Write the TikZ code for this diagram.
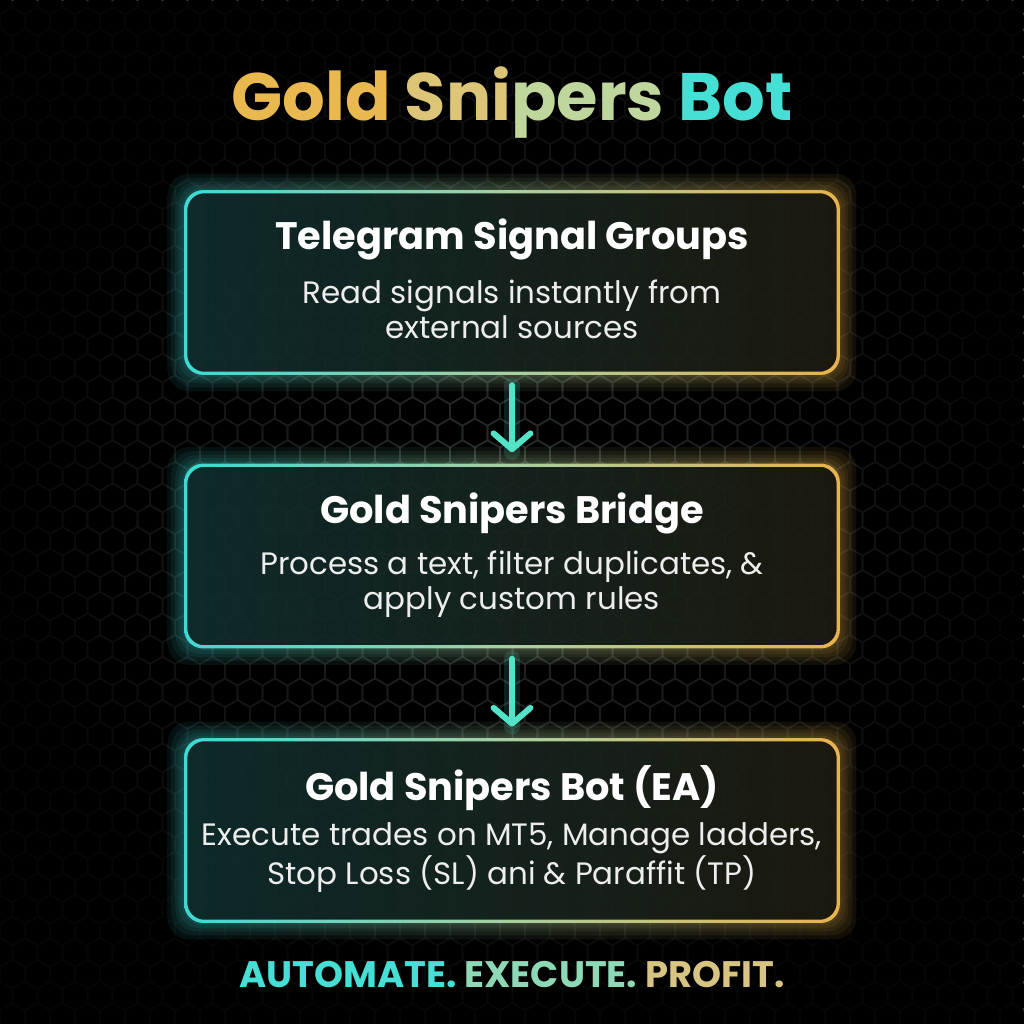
\documentclass[tikz,border=0pt]{standalone}
\usepackage{fontspec}
\setmainfont{Poppins}
\usetikzlibrary{arrows.meta,calc,positioning,fadings}
\definecolor{hexgray}{HTML}{33393A}
\definecolor{frcyan}{HTML}{3ED8D4}
\definecolor{frmid}{HTML}{A8CFA0}
\definecolor{frgold}{HTML}{E8B24C}
\definecolor{fillteal}{HTML}{0F2D2D}
\definecolor{fillolive}{HTML}{1D1B10}
\definecolor{arrowteal}{HTML}{52E3C8}
\definecolor{ttlgold}{HTML}{E9B84F}
\definecolor{ttlsand}{HTML}{DCC577}
\definecolor{ttlsage}{HTML}{BFD69C}
\definecolor{ttlcyan}{HTML}{45DFD5}
\definecolor{tagmint}{HTML}{8ED9B5}
\definecolor{tagsand}{HTML}{D8C482}
\tikzfading[name=vignette,inner color=transparent!85,outer color=transparent!10]
\tikzset{
  hex line/.style={draw=hexgray,line width=0.9pt},
  flow box/.style={minimum width=13.04cm,minimum height=3.62cm,inner sep=0pt},
  box head/.style={font=\bfseries\fontsize{21.8}{26}\selectfont,text=white},
  box body/.style={font=\fontsize{17.6}{19.8}\selectfont,text=white!93!black,
    align=center},
  flow arrow/.style={-{Straight Barb[length=9pt,width=21pt,round]},
    line width=3.4pt,line cap=round,arrowteal,shorten <=6.8pt,shorten >=7.4pt},
  arrow glow/.style={line width=9pt,arrowteal,opacity=0.15,line cap=round,
    shorten <=6.8pt,shorten >=7.4pt},
}
% glowing frame with a cyan to gold rim round a named box
\newcommand{\GlowFrame}[1]{%
  \foreach \g in {18,14,10,7,4}{
    \shade[left color=frcyan,right color=frgold,middle color=frmid,
      opacity=0.08,even odd rule]
      ($(#1.north west)+(-\g,-\g)$) [rounded corners=0.42cm] rectangle
      ($(#1.south east)+(\g,\g)$)
      ($(#1.north west)+(1,1)$) [rounded corners=0.34cm] rectangle
      ($(#1.south east)+(-1,-1)$);
  }
  \shade[left color=fillteal,right color=fillolive,fill opacity=0.92,
    rounded corners=0.36cm] (#1.north west) rectangle (#1.south east);
  \shade[left color=frcyan,right color=frgold,middle color=frmid,even odd rule]
    ($(#1.north west)+(-1.6,-1.6)$) [rounded corners=0.38cm] rectangle
    ($(#1.south east)+(1.6,1.6)$)
    ($(#1.north west)+(1.6,1.6)$) [rounded corners=0.34cm] rectangle
    ($(#1.south east)+(-1.6,-1.6)$);
}

\begin{document}
\begin{tikzpicture}[x=0.02cm,y=-0.02cm]
  \useasboundingbox (0,0) rectangle (1024,1024);
  \fill[black] (0,0) rectangle (1024,1024);

  % honeycomb backdrop
  \foreach \r in {0,...,49}{
    \foreach \c in {0,...,41}{
      \pgfmathsetmacro\hx{\c*25+mod(\r,2)*12.5}
      \pgfmathsetmacro\hy{\r*21.65}
      \draw[hex line] (\hx,\hy) +(90:14.43) -- +(150:14.43) -- +(210:14.43)
        -- +(270:14.43) -- +(330:14.43) -- +(30:14.43) -- cycle;
    }
  }
  \fill[black,path fading=vignette] (0,0) rectangle (1024,1024);

  \node (title) at (512,103) {\fontsize{38.2}{42}\selectfont\bfseries
    \textcolor{ttlgold}{Gold} \textcolor{ttlsand}{Sni}\textcolor{ttlsage}{pers}
    \textcolor{ttlcyan}{Bot}};

  % three stages of the signal path
  \node[flow box] (tele) at (512,282.5) {};
  \node[flow box] (bridge) at (512,556) {};
  \node[flow box] (bot) at (512,830.5) {};
  \GlowFrame{tele}
  \GlowFrame{bridge}
  \GlowFrame{bot}

  \node[box head] (telehead) at ($(tele.north)+(0,48)$)
    {Telegram Signal Groups};
  \node[box body] (telebody) at ($(tele.north)+(0,118)$)
    {Read signals instantly from\\external sources};
  \node[box head] (bridgehead) at ($(bridge.north)+(0,48)$)
    {Gold Snipers Bridge};
  \node[box body] (bridgebody) at ($(bridge.north)+(0,119)$)
    {Process a text, filter duplicates, \&\\apply custom rules};
  \node[box head] (bothead) at ($(bot.north)+(0,48)$)
    {Gold Snipers Bot (EA)};
  \node[box body] (botbody) at ($(bot.north)+(0,118)$)
    {Execute trades on MT5, Manage ladders,\\Stop Loss (SL) ani \& Paraffit (TP)};

  \draw[arrow glow] (tele) -- (bridge);
  \draw[flow arrow] (tele) -- (bridge);
  \draw[arrow glow] (bridge) -- (bot);
  \draw[flow arrow] (bridge) -- (bot);

  \node (tagline) at (512,975) {\fontsize{21}{24}\selectfont\bfseries
    \textcolor{ttlcyan}{AUTOMATE.} \textcolor{tagmint}{EXECUTE.}
    \textcolor{tagsand}{PROFIT.}};
\end{tikzpicture}
\end{document}
